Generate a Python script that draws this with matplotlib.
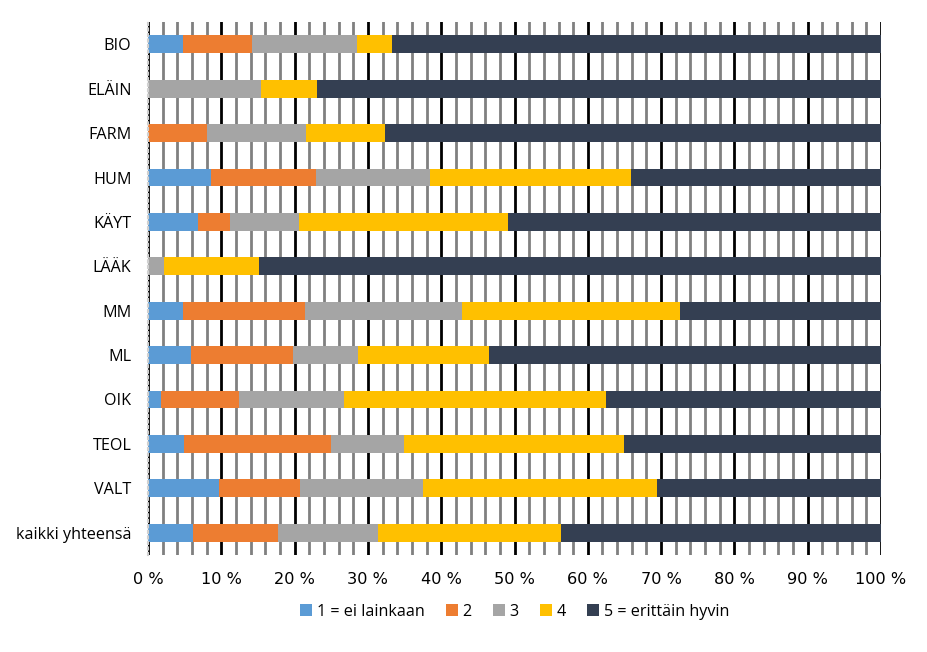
import numpy as np
import matplotlib.pyplot as plt
from matplotlib.ticker import MultipleLocator, FuncFormatter

categories = ['BIO', 'ELÄIN', 'FARM', 'HUM', 'KÄYT', 'LÄÄK', 'MM', 'ML',
              'OIK', 'TEOL', 'VALT', 'kaikki yhteensä']
series_names = ['1 = ei lainkaan', '2', '3', '4', '5 = erittäin hyvin']

# shares in percent
s1 = [4.8, 0.0, 0.0, 8.6, 6.8, 0.0, 4.8, 5.9, 1.8, 4.9, 9.7, 6.2]
s2 = [9.4, 0.0, 8.1, 14.3, 4.4, 0.0, 16.6, 13.9, 10.6, 20.1, 11.0, 11.5]
s3 = [14.3, 15.4, 13.4, 15.6, 9.4, 2.2, 21.4, 8.8, 14.3, 9.9, 16.8, 13.7]
s4 = [4.8, 7.7, 10.8, 27.4, 28.5, 12.9, 29.8, 17.9, 35.8, 30.0, 31.9, 24.9]
s5 = [66.7, 76.9, 67.7, 34.1, 50.9, 84.9, 27.4, 53.5, 37.5, 35.1, 30.6, 43.7]

colors = ['#5B9BD5', '#ED7D31', '#A5A5A5', '#FFC000', '#343F52']

fig = plt.figure(figsize=(9.27, 6.52), dpi=100)
ax = fig.add_axes([0.1597, 0.149, 0.7907, 0.817])
plt.rcParams['font.family'] = ['Open Sans', 'DejaVu Sans']

y = np.arange(len(categories))
left = np.zeros(len(categories))
for vals, name, col in zip([s1, s2, s3, s4, s5], series_names, colors):
	vals = np.array(vals)
	ax.barh(y, vals, left=left, height=0.4, color=col, label=name, zorder=3)
	left += vals

ax.set_xlim(0, 100)
ax.set_ylim(len(categories) - 0.5, -0.5)
ax.set_yticks(y)
ax.set_yticklabels(categories, fontsize=11.6, family=['Open Sans', 'DejaVu Sans'])
ax.xaxis.set_major_locator(MultipleLocator(10))
ax.xaxis.set_minor_locator(MultipleLocator(2))
ax.xaxis.set_major_formatter(FuncFormatter(lambda v, p: '%d %%' % v))
for lab in ax.get_xticklabels():
	lab.set_fontsize(11.6)
ax.tick_params(axis='both', which='both', length=0)
ax.tick_params(axis='x', pad=12)
ax.tick_params(axis='y', pad=12)

ax.grid(axis='x', which='minor', color='#808080', linewidth=2, zorder=1)
ax.grid(axis='x', which='major', color='black', linewidth=2, zorder=2)
for sp in ['top', 'right', 'bottom']:
	ax.spines[sp].set_visible(False)
ax.spines['left'].set_color('#D0D0D0')
ax.spines['left'].set_linestyle(':')
ax.spines['left'].set_linewidth(1.5)
ax.spines['left'].set_zorder(4)

ax.legend(loc='upper center', bbox_to_anchor=(0.5, -0.065), ncol=5, frameon=False,
          fontsize=11.6, handlelength=0.75, handleheight=0.75, handletextpad=0.3,
          columnspacing=1.3)

fig.savefig('out.png', dpi=100)
